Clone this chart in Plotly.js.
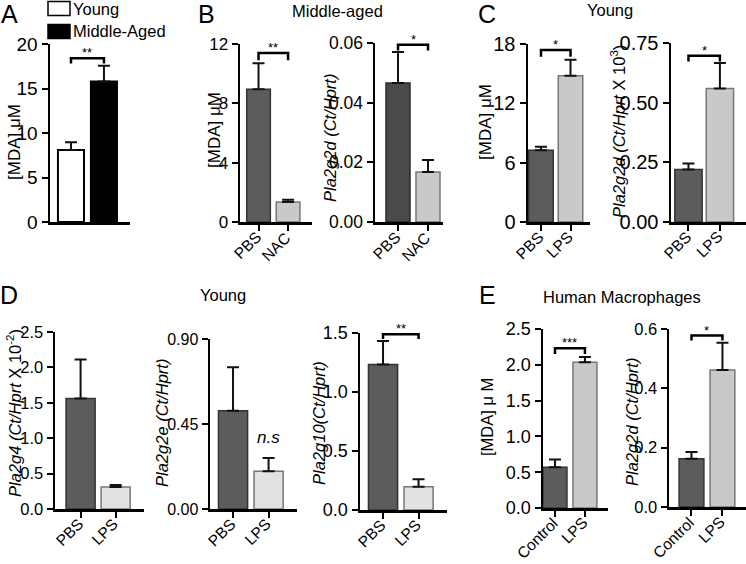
<!DOCTYPE html>
<html><head><meta charset="utf-8">
<script src="https://cdn.plot.ly/plotly-3.0.1.min.js"></script>
<style>body{margin:0;padding:0;background:#fff}#chart{width:746px;height:564px}</style>
</head><body><div id="chart"></div>
<script>
// ---- data ----
const aCats = ['Young', 'Middle-Aged'];
const aMean = [8.1, 15.8];
const aSem = [0.85, 1.75];

const bCats = ['PBS', 'NAC'];
const bMdaMean = [8.95, 1.35];
const bMdaSem = [1.75, 0.15];
const bPlaMean = [0.0466, 0.0168];
const bPlaSem = [0.0104, 0.0040];

const cCats = ['PBS', 'LPS'];
const cMdaMean = [7.26, 14.8];
const cMdaSem = [0.34, 1.6];
const cPlaMean = [0.22, 0.559];
const cPlaSem = [0.025, 0.107];

const dCats = ['PBS', 'LPS'];
const dG4Mean = [1.56, 0.31];
const dG4Sem = [0.55, 0.03];
const dG2eMean = [0.52, 0.2];
const dG2eSem = [0.23, 0.07];
const dG10Mean = [1.232, 0.197];
const dG10Sem = [0.2, 0.063];

const eCats = ['Control', 'LPS'];
const eMdaMean = [0.569, 2.034];
const eMdaSem = [0.107, 0.076];
const ePlaMean = [0.163, 0.4615];
const ePlaSem = [0.022, 0.092];

// ---- layout helpers ----
const W = 746, H = 564;
const FONT = 'Liberation Sans, Arial, Helvetica, sans-serif';
const DARK = '#5c5c5c', DARKER = '#4a4a4a', LIGHT = '#c9c9c9', LIGHTER = '#e2e2e2';

const panels = [
  {xpx:[50,130], ypx:[44,222], yr:[0,20], tv:[0,5,10,15,20], fmt:'d', xr:[-0.636,1.79], bw:0.79,
   cats:aCats, mean:aMean, sem:aSem, fill:['#ffffff','#000000'], line:['#000000','#000000'], lw:2,
   xlabels:false, tsz:19, sig:{t:'**', top:18.4, leg:17.8},
   title:'[MDA] μM', tx:14, ty:142, tfs:17, legend:true},
  {xpx:[240,312], ypx:[44,222], yr:[0,12], tv:[0,4,8,12], fmt:'d', xr:[-0.627,1.81], bw:0.8,
   cats:bCats, mean:bMdaMean, sem:bMdaSem, fill:[DARK,LIGHT], line:['#333','#777'], lw:1.5,
   xlabels:true, tsz:17, sig:{t:'**', top:11.4, leg:10.9},
   title:'[MDA] μM', tx:214, ty:130, tfs:17},
  {xpx:[375,443], ypx:[43,222], yr:[0,0.06], tv:[0,0.02,0.04,0.06], fmt:'.2f', xr:[-0.767,1.5], bw:0.8,
   cats:bCats, mean:bPlaMean, sem:bPlaSem, fill:[DARKER,LIGHT], line:['#2a2a2a','#777'], lw:1.5,
   xlabels:true, tsz:17.5, sig:{t:'*', top:0.0594, leg:0.0575},
   title:'<i>Pla2g2d (Ct/Hprt)</i>', tx:330, ty:138, tfs:16.5},
  {xpx:[528,590], ypx:[44,222], yr:[0,18], tv:[0,6,12,18], fmt:'d', xr:[-0.44,1.66], bw:0.83,
   cats:cCats, mean:cMdaMean, sem:cMdaSem, fill:[DARK,LIGHT], line:['#333','#777'], lw:1.5,
   xlabels:true, tsz:20, sig:{t:'*', top:17.4, leg:16.7},
   title:'[MDA] μM', tx:485, ty:122, tfs:17},
  {xpx:[671,746], ypx:[43,222], yr:[0,0.75], tv:[0,0.25,0.5,0.75], fmt:'.2f', xr:[-0.556,1.83], bw:0.87,
   cats:cCats, mean:cPlaMean, sem:cPlaSem, fill:[DARK,LIGHT], line:['#333','#777'], lw:1.5,
   xlabels:true, tsz:20, sig:{t:'*', top:0.697, leg:0.673},
   title:'<i>Pla2g2d (Ct/Hprt</i> X 10<sup>3</sup>)', tx:618, ty:132, tfs:16.5},
  {xpx:[55,144], ypx:[332,509], yr:[0,2.5], tv:[0,0.5,1,1.5,2,2.5], fmt:'.1f', xr:[-0.73,1.81], bw:0.83,
   cats:dCats, mean:dG4Mean, sem:dG4Sem, fill:[DARK,LIGHTER], line:['#333','#777'], lw:1.5,
   xlabels:true, tsz:16.5, sig:null,
   title:'<i>Pla2g4 (Ct/Hprt</i> X 10<sup>-2</sup>)', tx:14, ty:413, tfs:16.5},
  {xpx:[210,297], ypx:[339,509], yr:[0,0.9], tv:[0,0.45,0.9], fmt:'.2f', xr:[-0.648,1.8], bw:0.82,
   cats:dCats, mean:dG2eMean, sem:dG2eSem, fill:[DARK,LIGHTER], line:['#333','#777'], lw:1.5,
   xlabels:true, tsz:16, sig:null, ns:{t:'<i>n.s</i>', x:1, y:0.32},
   title:'<i>Pla2g2e (Ct/Hprt)</i>', tx:162, ty:423, tfs:16.5},
  {xpx:[360,447], ypx:[333,510], yr:[0,1.5], tv:[0,0.5,1,1.5], fmt:'.1f', xr:[-0.648,1.8], bw:0.82,
   cats:dCats, mean:dG10Mean, sem:dG10Sem, fill:[DARK,LIGHTER], line:['#333','#777'], lw:1.5,
   xlabels:true, tsz:18, sig:{t:'**', top:1.49, leg:1.45},
   title:'<i>Pla2g10(Ct/Hprt)</i>', tx:319, ty:423, tfs:16.5},
  {xpx:[543,608], ypx:[329,508], yr:[0,2.5], tv:[0,0.5,1,1.5,2,2.5], fmt:'.1f', xr:[-0.4,1.77], bw:0.8,
   cats:eCats, mean:eMdaMean, sem:eMdaSem, fill:[DARK,LIGHT], line:['#333','#777'], lw:1.5,
   xlabels:true, tsz:18, sig:{t:'***', top:2.23, leg:2.15},
   title:'[MDA] μ M', tx:487, ty:417, tfs:16.5},
  {xpx:[669,746], ypx:[329,507], yr:[0,0.6], tv:[0,0.2,0.4,0.6], fmt:'.1f', xr:[-0.726,1.76], bw:0.8,
   cats:eCats, mean:ePlaMean, sem:ePlaSem, fill:[DARK,LIGHT], line:['#333','#777'], lw:1.5,
   xlabels:true, tsz:16.5, sig:{t:'*', top:0.578, leg:0.561},
   title:'<i>Pla2g2d (Ct/Hprt)</i>', tx:632, ty:422, tfs:16.5}
];

const traces = [];
const layout = {
  width: W, height: H, margin: {l:0, r:0, t:0, b:0, autoexpand: false},
  paper_bgcolor: '#fff', plot_bgcolor: 'rgba(0,0,0,0)',
  font: {family: FONT, color: '#000'},
  barmode: 'overlay',
  showlegend: false,
  annotations: [], shapes: []
};

panels.forEach((p, i) => {
  const n = i + 1;
  const xa = n === 1 ? 'x' : 'x' + n;
  const ya = n === 1 ? 'y' : 'y' + n;
  const xk = n === 1 ? 'xaxis' : 'xaxis' + n;
  const yk = n === 1 ? 'yaxis' : 'yaxis' + n;
  const xs = p.cats.map((c, j) => j);
  const ybot = 1 - p.ypx[1] / H;

  traces.push({
    type: 'bar', x: xs, y: p.mean, width: p.bw, xaxis: xa, yaxis: ya, showlegend: false,
    marker: {color: p.fill, line: {color: p.line, width: p.lw}},
    error_y: {type: 'data', symmetric: false, array: p.sem, arrayminus: p.sem.map(() => 0),
              color: '#111', thickness: 2, width: 6},
    hoverinfo: 'skip'
  });

  // legend key for panel A (swatches use the series' own fill colours and names)
  if (p.legend) {
    p.cats.forEach((c, j) => {
      const yc = 8.5 + 23 * j;
      layout.shapes.push({
        type: 'rect', xref: 'paper', yref: 'paper',
        x0: 48 / W, x1: 70 / W, y0: 1 - (yc + 7) / H, y1: 1 - (yc - 7) / H,
        fillcolor: p.fill[j], line: {color: '#000', width: 1.5}
      });
      layout.annotations.push({
        xref: 'paper', yref: 'paper', x: 71 / W, y: 1 - yc / H, text: c, showarrow: false,
        xanchor: 'left', yanchor: 'middle', font: {size: 16.5, family: FONT}
      });
    });
  }

  if (p.sig) {
    traces.push({
      type: 'scatter', mode: 'lines', x: [0, 0, 1, 1], y: [p.sig.leg, p.sig.top, p.sig.top, p.sig.leg],
      xaxis: xa, yaxis: ya, showlegend: false, hoverinfo: 'skip',
      line: {color: '#000', width: 2.5}
    });
    layout.annotations.push({
      xref: xa, yref: ya, x: 0.5, y: p.sig.top, text: p.sig.t, showarrow: false,
      yanchor: 'bottom', yshift: -4, font: {size: 13, family: FONT}
    });
  }
  if (p.ns) {
    layout.annotations.push({
      xref: xa, yref: ya, x: p.ns.x, y: p.ns.y, text: p.ns.t, showarrow: false,
      yanchor: 'bottom', font: {size: 17, family: FONT}
    });
  }

  // rotated category labels, placed at each category's data position
  if (p.xlabels) {
    p.cats.forEach((c, j) => layout.annotations.push({
      xref: xa, yref: 'paper', x: xs[j], y: ybot, text: c, showarrow: false,
      textangle: -45, xanchor: 'right', yanchor: 'top', xshift: 7, yshift: -5,
      borderpad: 0, font: {size: 15.5, family: FONT}
    }));
  }

  layout[xk] = {
    domain: [p.xpx[0] / W, p.xpx[1] / W], anchor: ya, range: p.xr, fixedrange: true,
    showline: true, linecolor: '#000', linewidth: 2.5, showgrid: false, zeroline: false,
    tickmode: 'array', tickvals: p.xlabels ? xs : [], showticklabels: false,
    ticks: p.xlabels ? 'outside' : '', ticklen: 6, tickwidth: 2, tickcolor: '#000'
  };
  layout[yk] = {
    domain: [ybot, 1 - p.ypx[0] / H], anchor: xa, range: p.yr, fixedrange: true,
    showline: true, linecolor: '#000', linewidth: 2.5, showgrid: false, zeroline: false,
    tickmode: 'array', tickvals: p.tv, tickformat: p.fmt,
    ticks: 'outside', ticklen: 6, tickwidth: 2, tickcolor: '#000',
    tickfont: {size: p.tsz, family: FONT, color: '#000'}
  };
  layout.annotations.push({
    xref: 'paper', yref: 'paper', x: p.tx / W, y: 1 - p.ty / H, text: p.title, textangle: -90,
    showarrow: false, xanchor: 'center', yanchor: 'middle', font: {size: p.tfs, family: FONT}
  });
});

// panel letters and headers
const letters = [['A', 9, 14], ['B', 206, 14], ['C', 487, 14], ['D', 9, 295], ['E', 487, 295]];
letters.forEach(l => layout.annotations.push({
  xref: 'paper', yref: 'paper', x: l[1] / W, y: 1 - l[2] / H, text: l[0], showarrow: false,
  xanchor: 'center', yanchor: 'middle', font: {size: 25, family: FONT}
}));
const headers = [['Middle-aged', 337, 11], ['Young', 610, 10], ['Young', 223, 295], ['Human Macrophages', 622, 297]];
headers.forEach(h => layout.annotations.push({
  xref: 'paper', yref: 'paper', x: h[1] / W, y: 1 - h[2] / H, text: h[0], showarrow: false,
  xanchor: 'center', yanchor: 'middle', font: {size: 16.5, family: FONT}
}));

Plotly.newPlot('chart', traces, layout, {staticPlot: true, displayModeBar: false});
</script>
</body></html>
